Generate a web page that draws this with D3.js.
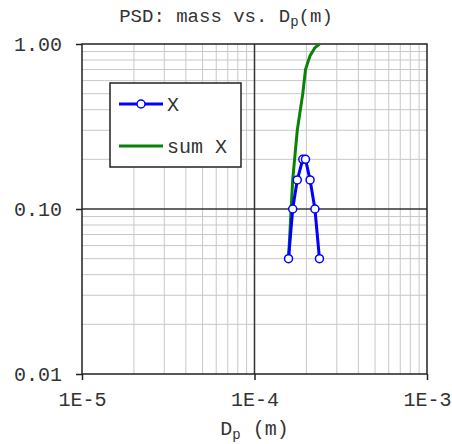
<!DOCTYPE html>
<html>
<head>
<meta charset="utf-8">
<script src="https://cdn.jsdelivr.net/npm/d3@7"></script>
<style>
  body { margin: 0; background: #fff; }
  text { font-family: "Liberation Mono", "DejaVu Sans Mono", monospace; fill: #333; }
</style>
</head>
<body>
<svg width="452" height="444"></svg>
<script>
// particle diameters (m) and mass fractions
const diameters = [1.575e-4, 1.665e-4, 1.77e-4, 1.905e-4, 1.975e-4, 2.1e-4, 2.24e-4, 2.38e-4];
const massX = [0.05, 0.10, 0.15, 0.20, 0.20, 0.15, 0.10, 0.05];
const sumX = [0.05, 0.15, 0.30, 0.50, 0.70, 0.85, 0.95, 1.00];
const xTicks = [1e-5, 1e-4, 1e-3];
const yTicks = [0.01, 0.1, 1];

const svg = d3.select('svg');
const margin = { top: 44, right: 25, bottom: 70, left: 82 };
const width = +svg.attr('width');
const height = +svg.attr('height');

const x = d3.scaleLog().domain([1e-5, 1e-3]).range([margin.left, width - margin.right]);
const y = d3.scaleLog().domain([0.01, 1]).range([height - margin.bottom, margin.top]);

// minor grid
const minorX = [];
[1e-5, 1e-4].forEach(d => { for (let k = 2; k <= 9; k++) minorX.push(d * k); });
const minorY = [];
[0.01, 0.1].forEach(d => { for (let k = 2; k <= 9; k++) minorY.push(d * k); });

const grid = svg.append('g');
grid.selectAll('.mx').data(minorX).enter().append('line')
  .attr('x1', d => x(d)).attr('x2', d => x(d))
  .attr('y1', y(0.01)).attr('y2', y(1))
  .attr('stroke', '#c8c8c8').attr('stroke-width', 1);
grid.selectAll('.my').data(minorY).enter().append('line')
  .attr('y1', d => y(d)).attr('y2', d => y(d))
  .attr('x1', x(1e-5)).attr('x2', x(1e-3))
  .attr('stroke', '#c8c8c8').attr('stroke-width', 1);

// major grid
grid.append('line')
  .attr('x1', x(1e-4)).attr('x2', x(1e-4)).attr('y1', y(0.01)).attr('y2', y(1))
  .attr('stroke', '#333').attr('stroke-width', 1.5);
grid.append('line')
  .attr('y1', y(0.1)).attr('y2', y(0.1)).attr('x1', x(1e-5)).attr('x2', x(1e-3))
  .attr('stroke', '#333').attr('stroke-width', 1.5);

// frame
svg.append('rect')
  .attr('x', x(1e-5)).attr('y', y(1))
  .attr('width', x(1e-3) - x(1e-5)).attr('height', y(0.01) - y(1))
  .attr('fill', 'none').attr('stroke', '#222').attr('stroke-width', 1.5);

// axes
const xAxis = d3.axisBottom(x).tickValues(xTicks)
  .tickFormat(d => '1E' + Math.round(Math.log10(d)))
  .tickSize(6).tickPadding(12);
const xg = svg.append('g').attr('transform', `translate(0,${y(0.01)})`).call(xAxis);
xg.select('.domain').remove();
xg.selectAll('line').attr('stroke', '#222').attr('stroke-width', 1.5);
xg.selectAll('text').style('font-size', '20px').attr('font-family', null);

const yAxis = d3.axisLeft(y).tickValues(yTicks).tickFormat(d3.format('.2f'))
  .tickSize(6).tickPadding(14);
const yg = svg.append('g').attr('transform', `translate(${x(1e-5)},0)`).call(yAxis);
yg.select('.domain').remove();
yg.selectAll('line').attr('stroke', '#222').attr('stroke-width', 1.5);
yg.selectAll('text').style('font-size', '20px').attr('font-family', null);

// title
const title = svg.append('text')
  .attr('x', width / 2).attr('y', 22)
  .attr('text-anchor', 'middle').style('font-size', '19px');
title.append('tspan').text('PSD: mass vs. D');
title.append('tspan').text('p').attr('dy', 4).style('font-size', '14px');
title.append('tspan').text('(m)').attr('dy', -4);

// x label
const xl = svg.append('text')
  .attr('x', x(1e-4)).attr('y', 435)
  .attr('text-anchor', 'middle').style('font-size', '20px');
xl.append('tspan').text('D');
xl.append('tspan').text('p').attr('dy', 4).style('font-size', '14px');
xl.append('tspan').text(' (m)').attr('dy', -4);

// lines
const pts = diameters.map((d, i) => ({ d: d, m: massX[i], s: sumX[i] }));
svg.append('clipPath').attr('id', 'clip').append('rect')
  .attr('x', x(1e-5)).attr('y', y(1))
  .attr('width', x(1e-3) - x(1e-5)).attr('height', y(0.01) - y(1));

svg.append('path').datum(pts)
  .attr('clip-path', 'url(#clip)')
  .attr('d', d3.line().x(p => x(p.d)).y(p => y(p.s)))
  .attr('fill', 'none').attr('stroke', '#0a820a').attr('stroke-width', 3);

svg.append('path').datum(pts)
  .attr('d', d3.line().x(p => x(p.d)).y(p => y(p.m)))
  .attr('fill', 'none').attr('stroke', '#0000ff').attr('stroke-width', 3);

svg.selectAll('.pt').data(pts).enter().append('circle')
  .attr('cx', p => x(p.d)).attr('cy', p => y(p.m)).attr('r', 4)
  .attr('fill', '#fff').attr('stroke', '#0000ff').attr('stroke-width', 1.5);

// legend
const lg = svg.append('g');
lg.append('rect').attr('x', 110).attr('y', 83).attr('width', 131).attr('height', 84)
  .attr('fill', '#fff').attr('stroke', '#222').attr('stroke-width', 1.5);
lg.append('line').attr('x1', 119).attr('x2', 163).attr('y1', 104).attr('y2', 104)
  .attr('stroke', '#0000ff').attr('stroke-width', 3);
lg.append('circle').attr('cx', 141).attr('cy', 104).attr('r', 4)
  .attr('fill', '#fff').attr('stroke', '#0000ff').attr('stroke-width', 1.5);
lg.append('text').attr('x', 167).attr('y', 111).text('X').style('font-size', '20px');
lg.append('line').attr('x1', 119).attr('x2', 163).attr('y1', 146).attr('y2', 146)
  .attr('stroke', '#0a820a').attr('stroke-width', 3);
lg.append('text').attr('x', 167).attr('y', 153).text('sum X').style('font-size', '20px');
</script>
</body>
</html>
